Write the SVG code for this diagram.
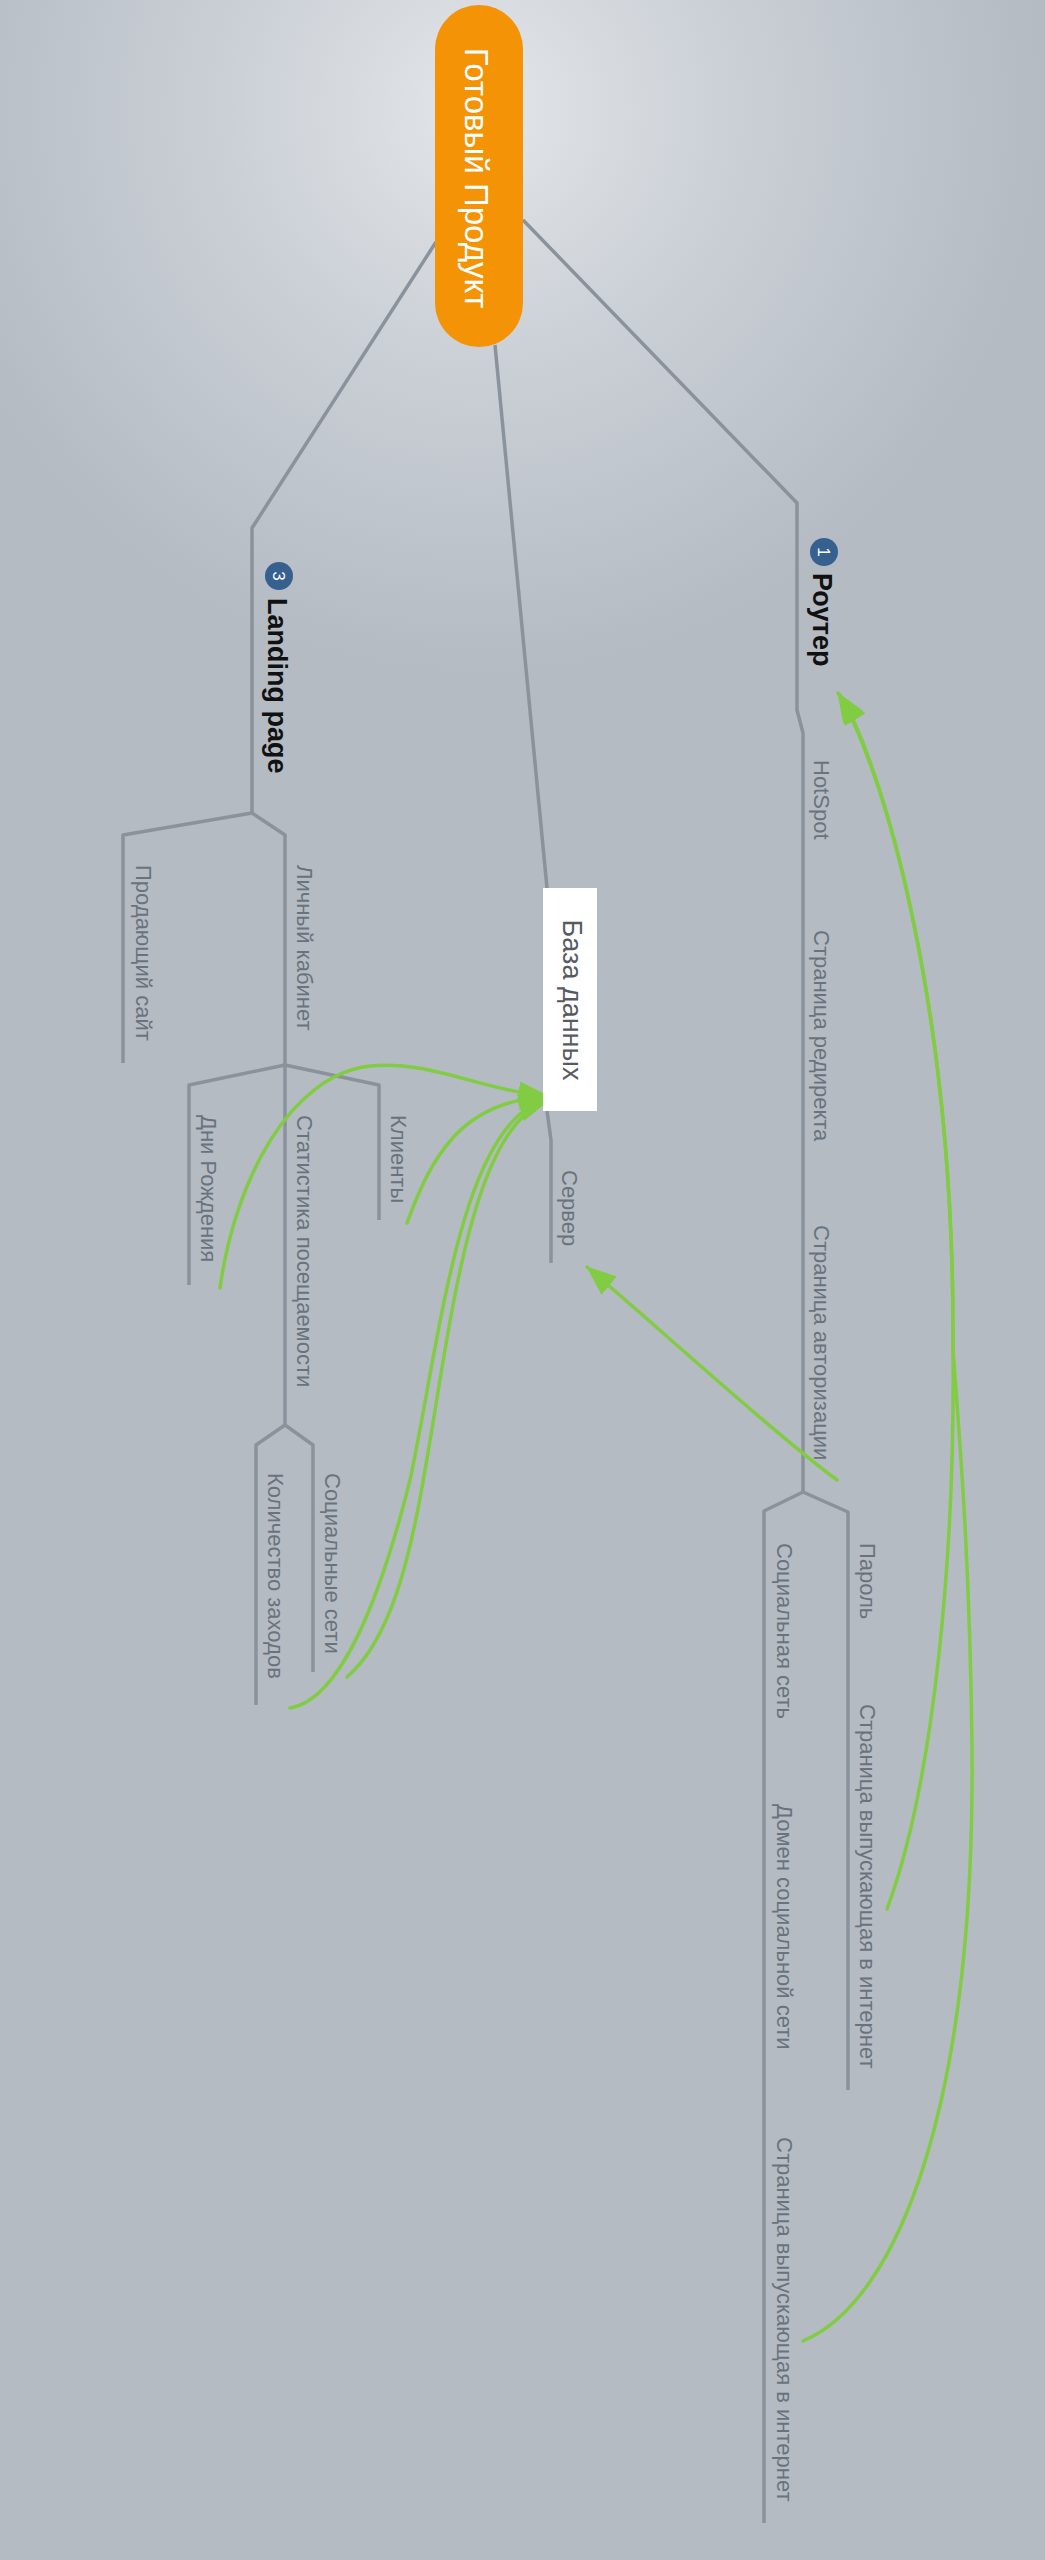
<svg xmlns="http://www.w3.org/2000/svg" width="1045" height="2560" viewBox="0 0 1045 2560">
  <defs>
    <radialGradient id="bg" gradientUnits="userSpaceOnUse" cx="480" cy="110" r="560">
      <stop offset="0" stop-color="#E3E6EA"/>
      <stop offset="0.45" stop-color="#CBD0D6"/>
      <stop offset="1" stop-color="#B4BBC3"/>
    </radialGradient>
    <marker id="head" viewBox="0 0 30 24" refX="29" refY="12" markerWidth="30" markerHeight="24" markerUnits="userSpaceOnUse" orient="auto">
      <path d="M0 0 L30 12 L0 24 Z" fill="#82CC44"/>
    </marker>
    <style>
      .branch { fill: none; stroke: #8A929B; stroke-width: 3.5; stroke-linejoin: round; }
      .rel { fill: none; stroke: #82CC44; stroke-width: 3.5; stroke-linecap: round; marker-end: url(#head); }
      .lbl { font-family: "Liberation Sans", Arial, sans-serif; font-size: 22px; fill: #6A737C; }
      .main { font-family: "Liberation Sans", Arial, sans-serif; font-size: 27px; font-weight: bold; fill: #111111; }
      .num { font-family: "Liberation Sans", Arial, sans-serif; font-size: 17px; fill: #FFFFFF; }
      .badge { fill: #36618F; }
    </style>
  </defs>

  <rect x="0" y="0" width="1045" height="2560" fill="#B4BBC3"/>
  <rect x="0" y="0" width="1045" height="2560" fill="url(#bg)"/>

  <!-- branch lines and relationship arrows -->
  <g id="connectors">
    <!-- root to Landing page subtree -->
    <path class="branch" d="M436 242 L252 528 L252 813"/>
    <path class="branch" d="M123 1063 L123 835 L252 813 L285 835 L285 1065"/>
    <path class="branch" d="M189 1285 L189 1085 L285 1065 L379 1085 L379 1220"/>
    <path class="branch" d="M285 1065 L285 1425"/>
    <path class="branch" d="M256 1705 L256 1445 L285 1425 L313 1445 L313 1672"/>
    <!-- root to database -->
    <path class="branch" d="M495 345 L547 888"/>
    <path class="branch" d="M547 1111 L551 1140 L551 1263"/>
    <!-- root to router subtree -->
    <path class="branch" d="M523 220 L797 503 L797 710 L803 733 L803 1492"/>
    <path class="branch" d="M764 2523 L764 1511 L803 1492 L848 1512 L848 2090"/>

    <!-- relationships -->
    <path class="rel" d="M220 1288 C235 1180, 290 1075, 370 1066 C430 1060, 480 1090, 548 1096"/>
    <path class="rel" d="M407 1223 C430 1160, 460 1100, 548 1097"/>
    <path class="rel" d="M290 1708 C340 1700, 380 1600, 410 1480 C440 1340, 460 1120, 548 1099"/>
    <path class="rel" d="M347 1677 C390 1640, 410 1560, 425 1470 C450 1330, 470 1125, 548 1101"/>
    <path class="rel" d="M837 1480 C770 1430, 650 1320, 587 1267"/>
    <path class="rel" d="M887 1909 C935 1780, 955 1550, 953 1350 C955 1000, 880 760, 838 693"/>
    <path class="rel" d="M803 2341 C900 2300, 975 2100, 972 1750 C970 1550, 958 1420, 953 1350 C955 1000, 880 760, 840 695"/>
  </g>

  <!-- central topic -->
  <g id="root">
    <rect x="435" y="5" width="88" height="342" rx="44" ry="44" fill="#F39305"/>
    <text transform="translate(465 178) rotate(90)" text-anchor="middle" font-family="Liberation Sans, Arial, sans-serif" font-size="33" fill="#FFFFFF">Готовый Продукт</text>
  </g>

  <!-- Landing page subtree -->
  <g id="landing">
    <circle class="badge" cx="279" cy="576" r="14"/>
    <text class="num" transform="translate(273 576) rotate(90)" text-anchor="middle">3</text>
    <text class="main" transform="translate(268 598) rotate(90)">Landing page</text>
  </g>
  <g id="selling-site"><text class="lbl" transform="translate(136 865) rotate(90)">Продающий сайт</text></g>
  <g id="account"><text class="lbl" transform="translate(297 865) rotate(90)">Личный кабинет</text></g>
  <g id="birthdays"><text class="lbl" transform="translate(201 1115) rotate(90)">Дни Рождения</text></g>
  <g id="stats"><text class="lbl" transform="translate(297 1115) rotate(90)">Статистика посещаемости</text></g>
  <g id="clients"><text class="lbl" transform="translate(391 1115) rotate(90)">Клиенты</text></g>
  <g id="visits"><text class="lbl" transform="translate(268 1473) rotate(90)">Количество заходов</text></g>
  <g id="social-nets"><text class="lbl" transform="translate(325 1473) rotate(90)">Социальные сети</text></g>

  <!-- database -->
  <g id="database">
    <rect x="543" y="888" width="54" height="223" fill="#FFFFFF"/>
    <text transform="translate(563 1000) rotate(90)" text-anchor="middle" font-family="Liberation Sans, Arial, sans-serif" font-size="27" fill="#555B61">База данных</text>
  </g>
  <g id="server"><text class="lbl" transform="translate(562 1170) rotate(90)">Сервер</text></g>

  <!-- router subtree -->
  <g id="router">
    <circle class="badge" cx="824" cy="552" r="14"/>
    <text class="num" transform="translate(818 552) rotate(90)" text-anchor="middle">1</text>
    <text class="main" transform="translate(813 573) rotate(90)">Роутер</text>
  </g>
  <g id="hotspot"><text class="lbl" transform="translate(814 760) rotate(90)">HotSpot</text></g>
  <g id="redirect-page"><text class="lbl" transform="translate(814 930) rotate(90)">Страница редиректа</text></g>
  <g id="auth-page"><text class="lbl" transform="translate(814 1225) rotate(90)">Страница авторизации</text></g>
  <g id="password"><text class="lbl" transform="translate(860 1543) rotate(90)">Пароль</text></g>
  <g id="landing-out-1"><text class="lbl" transform="translate(860 1704) rotate(90)">Страница выпускающая в интернет</text></g>
  <g id="social-net"><text class="lbl" transform="translate(777 1543) rotate(90)">Социальная сеть</text></g>
  <g id="social-domain"><text class="lbl" transform="translate(777 1804) rotate(90)">Домен социальной сети</text></g>
  <g id="landing-out-2"><text class="lbl" transform="translate(777 2137) rotate(90)">Страница выпускающая в интернет</text></g>
</svg>
